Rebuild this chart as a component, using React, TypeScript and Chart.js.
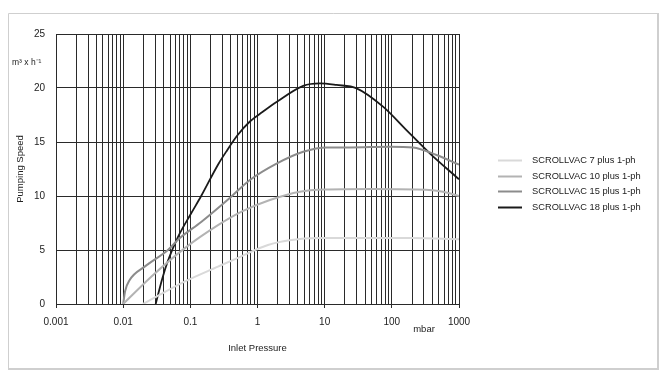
import React, { useEffect, useRef } from "react";
import { Chart, registerables } from "chart.js";

Chart.register(...registerables);

// ---- Data ----
const seriesLabels = [
  "SCROLLVAC 7 plus 1-ph",
  "SCROLLVAC 10 plus 1-ph",
  "SCROLLVAC 15 plus 1-ph",
  "SCROLLVAC 18 plus 1-ph",
];

const pressure7 = [0.0197, 0.082, 0.258, 0.5, 1.43, 3, 8, 30, 200, 1000];
const speed7 = [0, 2.07, 3.46, 4.25, 5.46, 5.9, 6.1, 6.1, 6.1, 6.0];

const pressure10 = [0.01, 0.0262, 0.082, 0.258, 0.6, 1.53, 4.27, 10, 50, 230, 580, 1000];
const speed10 = [0, 2.53, 5.15, 7.3, 8.6, 9.63, 10.4, 10.6, 10.65, 10.6, 10.4, 10.0];

const pressure15 = [0.01, 0.0107, 0.0125, 0.0209, 0.0464, 0.069, 0.145, 0.406, 0.77, 1.92, 4.79, 10.7, 23.7, 93, 207, 462, 1000];
const speed15 = [0, 1.2, 2.22, 3.46, 5.0, 6.08, 7.6, 9.94, 11.48, 13.0, 14.1, 14.5, 14.5, 14.57, 14.5, 13.8, 12.9];

const pressure18 = [0.0305, 0.038, 0.0464, 0.0653, 0.103, 0.145, 0.258, 0.35, 0.5, 0.77, 1.2, 1.92, 4.79, 8.5, 15, 29.9, 74, 165, 367, 1000];
const speed18 = [0, 2.3, 4.0, 6.2, 8.4, 10.0, 12.9, 14.2, 15.6, 16.9, 17.8, 18.7, 20.2, 20.43, 20.28, 19.97, 18.27, 16.1, 13.95, 11.55];

const majorTicks = [0.001, 0.01, 0.1, 1, 10, 100, 1000];
const majorTickLabels = ["0.001", "0.01", "0.1", "1", "10", "100", "1000"];
const yTickStep = 5;
const yMin = 0;
const yMax = 25;

const xTitle = "Inlet Pressure";
const yTitle = "Pumping Speed";
const unitText = "m³ x h⁻¹";
const xUnitText = "mbar";

const seriesColors = ["#d9d9d9", "#b3b3b3", "#8c8c8c", "#1a1a1a"];

const FONT = "'Liberation Sans', Arial, Helvetica, sans-serif";

function toPoints(xs: number[], ys: number[]) {
  return xs.map((x, i) => ({ x, y: ys[i] }));
}

function buildLogTicks(): number[] {
  const out: number[] = [];
  for (let i = 0; i < majorTicks.length - 1; i++) {
    for (let m = 1; m <= 9; m++) {
      out.push(Number((majorTicks[i] * m).toPrecision(8)));
    }
  }
  out.push(majorTicks[majorTicks.length - 1]);
  return out;
}

function majorIndex(v: number): number {
  for (let i = 0; i < majorTicks.length; i++) {
    if (Math.abs(Math.log10(v) - Math.log10(majorTicks[i])) < 1e-6) return i;
  }
  return -1;
}

const decorPlugin = {
  id: "decor",
  beforeDraw(chart: any) {
    const { ctx } = chart;
    ctx.save();
    ctx.fillStyle = "#ffffff";
    ctx.fillRect(0, 0, chart.width, chart.height);
    // outer frame
    ctx.strokeStyle = "#cfcfcf";
    ctx.lineWidth = 1;
    ctx.beginPath();
    ctx.moveTo(8.5, 369);
    ctx.lineTo(8.5, 13.5);
    ctx.lineTo(658, 13.5);
    ctx.stroke();
    ctx.lineWidth = 2;
    ctx.beginPath();
    ctx.moveTo(658, 13);
    ctx.lineTo(658, 369);
    ctx.lineTo(8, 369);
    ctx.stroke();
    ctx.restore();
  },
  afterDraw(chart: any) {
    const { ctx, chartArea } = chart;
    ctx.save();
    ctx.fillStyle = "#222";
    ctx.textBaseline = "middle";
    // unit of y axis
    ctx.font = `8.5px ${FONT}`;
    ctx.textAlign = "left";
    ctx.fillText(unitText, 12, 63);
    // x unit
    ctx.font = `9.5px ${FONT}`;
    ctx.textAlign = "center";
    ctx.fillText(xUnitText, chartArea.right - 35, chartArea.bottom + 25);
    // legend
    const ds = chart.data.datasets;
    const lx0 = chartArea.right + 39;
    const lx1 = lx0 + 24;
    const tx = lx1 + 10;
    const y0 = 160;
    const step = 15.5;
    ctx.font = `9.3px ${FONT}`;
    ctx.textAlign = "left";
    ds.forEach((d: any, i: number) => {
      const y = Math.round(y0 + i * step) + 0.5;
      ctx.strokeStyle = d.borderColor;
      ctx.lineWidth = 2;
      ctx.beginPath();
      ctx.moveTo(lx0, y);
      ctx.lineTo(lx1, y);
      ctx.stroke();
      ctx.fillStyle = "#222";
      ctx.fillText(d.label, tx, y);
    });
    ctx.restore();
  },
};

export default function App() {
  const canvasRef = useRef<HTMLCanvasElement | null>(null);

  useEffect(() => {
    const canvas = canvasRef.current;
    if (!canvas) return;
    const allTicks = buildLogTicks();
    const pressures = [pressure7, pressure10, pressure15, pressure18];
    const speeds = [speed7, speed10, speed15, speed18];

    const chart = new Chart(canvas, {
      type: "line",
      data: {
        datasets: seriesLabels.map((label, i) => ({
          label,
          data: toPoints(pressures[i], speeds[i]),
          borderColor: seriesColors[i],
          backgroundColor: seriesColors[i],
          borderWidth: i === 3 ? 1.8 : 2,
          pointRadius: 0,
          pointHoverRadius: 0,
          fill: false,
          cubicInterpolationMode: "monotone" as const,
        })),
      },
      options: {
        responsive: false,
        animation: false,
        events: [],
        layout: { padding: { left: 8, right: 209, top: 34, bottom: 11 } },
        plugins: {
          legend: { display: false },
          tooltip: { enabled: false },
          title: { display: false },
        },
        scales: {
          x: {
            type: "logarithmic",
            min: majorTicks[0],
            max: majorTicks[majorTicks.length - 1],
            afterBuildTicks: (scale: any) => {
              scale.ticks = allTicks.map((v) => ({ value: v, major: majorIndex(v) >= 0 }));
            },
            afterFit: (scale: any) => {
              scale.height = 62;
            },
            grid: {
              color: "#2a2a2a",
              lineWidth: 1,
              drawTicks: true,
              tickLength: 4,
              tickColor: (ctx: any) =>
                ctx.tick && majorIndex(ctx.tick.value) >= 0 ? "#2a2a2a" : "rgba(0,0,0,0)",
            },
            border: { display: true, color: "#2a2a2a", width: 1 },
            ticks: {
              autoSkip: false,
              maxRotation: 0,
              minRotation: 0,
              padding: 8,
              color: "#222",
              font: { family: FONT, size: 10 },
              callback: (value: any) => {
                const i = majorIndex(Number(value));
                return i >= 0 ? majorTickLabels[i] : "";
              },
            },
            title: {
              display: true,
              text: xTitle,
              color: "#222",
              font: { family: FONT, size: 9.5 },
              padding: { top: 0, bottom: 12 },
            },
          },
          y: {
            type: "linear",
            min: yMin,
            max: yMax,
            afterFit: (scale: any) => {
              scale.width = 48;
            },
            grid: {
              color: "#2a2a2a",
              lineWidth: 1,
              drawTicks: false,
            },
            border: { display: true, color: "#2a2a2a", width: 1 },
            ticks: {
              stepSize: yTickStep,
              padding: 11,
              color: "#222",
              font: { family: FONT, size: 10 },
            },
            title: {
              display: true,
              text: yTitle,
              color: "#222",
              font: { family: FONT, size: 9.5 },
              padding: { top: 7, bottom: 0 },
            },
          },
        },
      },
      plugins: [decorPlugin],
    } as any);

    return () => {
      chart.destroy();
    };
  }, []);

  return (
    <canvas
      ref={canvasRef}
      width={668}
      height={377}
      style={{ position: "fixed", left: 0, top: 0, width: 668, height: 377 }}
    />
  );
}
